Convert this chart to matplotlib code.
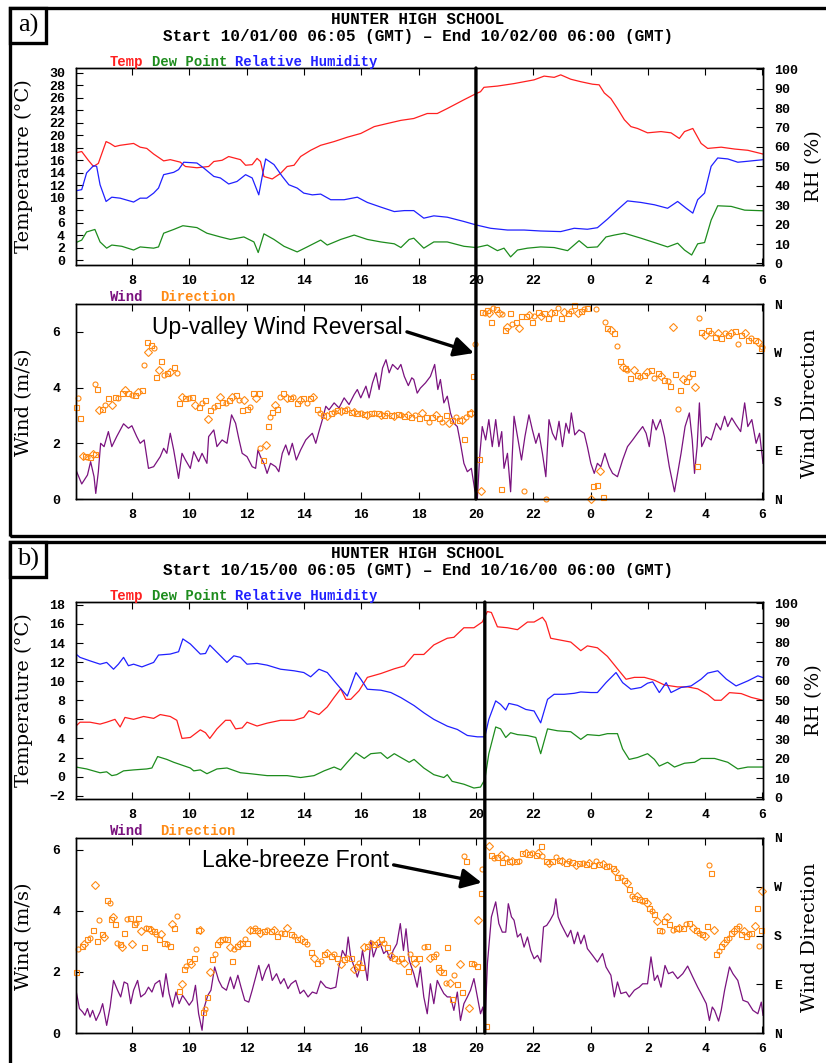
import matplotlib
matplotlib.use('Agg')
import matplotlib.pyplot as plt
from matplotlib.patches import Rectangle, ConnectionPatch

W, H = 826, 1063

# ---- data: (hour since 00 GMT of start day, value); hours > 24 are next day

# panel a  10/01/00
a_temp = [(6.04, 17.2), (6.24, 17.4), (6.47, 16.0), (6.65, 15.0), (6.82, 15.5), (7.09, 19.0), (7.23, 18.7),
          (7.40, 18.2), (7.58, 18.4), (8.05, 18.7), (8.28, 18.1), (8.51, 17.9), (8.75, 17.0), (9.10, 15.9),
          (9.33, 16.1), (9.68, 15.7), (9.86, 15.0), (10.26, 14.8), (10.67, 15.0), (10.85, 15.8), (11.14, 16.0),
          (11.37, 16.6), (11.78, 16.1), (11.96, 15.2), (12.19, 15.3), (12.36, 16.3), (12.48, 15.8), (12.60, 13.4),
          (12.89, 13.0), (13.18, 13.9), (13.41, 15.0), (13.65, 15.2), (13.88, 16.6), (14.23, 17.6), (14.58, 18.4),
          (15.05, 19.0), (15.51, 19.7), (15.98, 20.3), (16.45, 21.4), (16.91, 21.9), (17.38, 22.4), (17.83, 22.7),
          (18.30, 23.5), (18.65, 23.5), (19.00, 24.3), (19.58, 25.7), (20.01, 26.7), (20.16, 27.0), (20.28, 27.7),
          (20.75, 27.9), (21.33, 28.3), (21.68, 28.6), (22.03, 28.9), (22.38, 29.5), (22.73, 29.3), (22.96, 29.7),
          (23.31, 29.0), (23.66, 28.6), (24.07, 28.2), (24.30, 28.1), (24.48, 26.8), (24.71, 25.9), (24.94, 24.3),
          (25.18, 22.5), (25.41, 21.4), (25.64, 21.1), (25.99, 20.4), (26.46, 20.6), (26.81, 20.4), (27.10, 19.5),
          (27.28, 20.6), (27.57, 21.1), (27.86, 18.7), (28.09, 17.9), (28.56, 18.1), (29.03, 17.8), (29.49, 17.6),
          (30.02, 17.0)]
a_dew = [(6.04, 2.8), (6.24, 3.2), (6.41, 4.5), (6.70, 4.9), (6.88, 2.9), (7.11, 1.9), (7.29, 2.4), (7.64, 2.2),
         (8.05, 1.6), (8.28, 2.1), (8.51, 2.0), (8.75, 1.9), (8.92, 2.1), (9.10, 4.3), (9.45, 4.9), (9.77, 5.5),
         (10.26, 5.2), (10.61, 4.3), (11.08, 3.7), (11.43, 3.3), (11.90, 3.7), (12.25, 2.9), (12.40, 1.2),
         (12.60, 4.2), (12.95, 3.3), (13.30, 2.2), (13.76, 1.3), (14.11, 2.1), (14.58, 3.2), (14.81, 2.4),
         (15.28, 3.3), (15.75, 4.0), (16.21, 3.3), (16.68, 2.9), (17.15, 2.6), (17.38, 2.0), (17.67, 3.3),
         (17.83, 3.5), (18.18, 1.9), (18.53, 2.9), (19.00, 2.9), (19.58, 2.2), (20.01, 2.0), (20.40, 2.4),
         (20.75, 1.5), (20.98, 1.9), (21.21, 0.5), (21.45, 1.6), (21.80, 1.9), (22.26, 2.1), (22.73, 2.0),
         (23.20, 1.5), (23.60, 3.1), (23.89, 2.0), (24.24, 2.1), (24.54, 3.7), (24.83, 4.0), (25.18, 4.3),
         (25.76, 3.5), (26.23, 2.8), (26.69, 2.1), (27.04, 2.7), (27.28, 1.6), (27.53, 0.8), (27.74, 2.6),
         (27.98, 2.8), (28.21, 6.4), (28.44, 8.7), (28.91, 8.6), (29.38, 8.0), (30.02, 7.9)]
a_rh = [(6.04, 37.4), (6.24, 38.0), (6.41, 46.6), (6.65, 50.3), (6.76, 50.0), (6.88, 40.5), (7.09, 31.9),
        (7.29, 34.1), (7.58, 33.6), (8.05, 31.6), (8.28, 33.6), (8.51, 33.6), (8.75, 36.2), (8.92, 38.8),
        (9.10, 45.7), (9.45, 46.9), (9.62, 48.3), (9.80, 52.1), (10.26, 51.7), (10.50, 49.1), (10.85, 44.8),
        (11.08, 44.0), (11.37, 40.9), (11.66, 42.2), (11.96, 45.7), (12.19, 44.0), (12.42, 35.3), (12.54, 44.8),
        (12.66, 53.8), (12.95, 50.9), (13.24, 44.8), (13.47, 40.5), (13.76, 38.8), (13.99, 36.2), (14.29, 35.3),
        (14.58, 35.7), (14.93, 32.8), (15.40, 32.8), (15.86, 34.1), (16.21, 31.4), (16.68, 29.0), (17.15, 26.7),
        (17.50, 27.2), (17.83, 27.2), (18.18, 23.3), (18.53, 24.5), (19.00, 23.8), (19.58, 21.6), (20.01, 19.8),
        (20.51, 18.1), (21.10, 17.2), (21.68, 17.2), (22.26, 16.7), (22.96, 16.4), (23.43, 18.1), (23.89, 17.6),
        (24.24, 18.4), (24.59, 22.8), (24.94, 27.6), (25.29, 32.2), (25.76, 31.4), (26.23, 30.2), (26.69, 28.4),
        (27.04, 31.9), (27.34, 28.4), (27.57, 25.9), (27.74, 32.8), (27.98, 36.2), (28.21, 50.0), (28.44, 54.3),
        (28.79, 53.8), (29.14, 52.1), (29.49, 52.6), (30.02, 53.4)]
a_wind = [(6.04, 1.04), (6.24, 0.54), (6.44, 0.86), (6.55, 1.34), (6.67, 0.8), (6.73, 0.2), (6.82, 0.98),
          (6.90, 2.0), (7.02, 1.88), (7.17, 2.42), (7.29, 1.88), (7.46, 2.24), (7.70, 2.7), (7.87, 2.54),
          (7.99, 2.63), (8.16, 2.24), (8.28, 2.0), (8.42, 2.12), (8.57, 1.1), (8.75, 1.16), (8.98, 1.52),
          (9.10, 1.82), (9.21, 1.64), (9.33, 2.36), (9.45, 1.76), (9.62, 0.74), (9.74, 1.64), (9.86, 1.4),
          (10.03, 1.1), (10.15, 1.7), (10.32, 1.34), (10.44, 1.64), (10.61, 1.28), (10.67, 2.24), (10.85, 2.48),
          (10.96, 1.88), (11.14, 2.12), (11.31, 2.0), (11.47, 3.02), (11.61, 2.72), (11.72, 2.18), (11.84, 1.64),
          (12.01, 1.52), (12.19, 1.16), (12.31, 1.1), (12.39, 1.76), (12.48, 1.52), (12.60, 1.28), (12.71, 0.92),
          (12.83, 1.28), (13.01, 1.16), (13.12, 0.98), (13.24, 1.64), (13.36, 1.94), (13.47, 1.58), (13.59, 2.0),
          (13.73, 1.4), (13.88, 1.76), (14.06, 2.12), (14.17, 2.24), (14.29, 2.36), (14.41, 2.0), (14.52, 2.42),
          (14.64, 2.85), (14.76, 3.33), (14.87, 3.2), (15.05, 3.45), (15.22, 3.27), (15.40, 3.63), (15.57, 3.39),
          (15.75, 3.75), (15.86, 3.93), (15.98, 3.63), (16.16, 4.05), (16.27, 3.63), (16.39, 4.17), (16.51, 4.53),
          (16.62, 3.93), (16.74, 4.7), (16.86, 5.0), (16.97, 4.53), (17.09, 4.83), (17.27, 4.65), (17.38, 4.83),
          (17.50, 4.4), (17.64, 4.07), (17.76, 4.35), (17.83, 4.29), (17.95, 3.8), (18.06, 3.98), (18.24, 4.17),
          (18.41, 4.4), (18.56, 4.83), (18.67, 3.93), (18.76, 4.29), (18.88, 3.45), (19.00, 3.69), (19.11, 3.09),
          (19.23, 2.72), (19.35, 2.6), (19.46, 2.0), (19.58, 1.28), (19.70, 0.98), (19.84, 1.1), (19.96, 0.32),
          (20.05, 0.02), (20.13, 1.52), (20.22, 2.6), (20.34, 2.12), (20.45, 2.85), (20.57, 1.88), (20.69, 2.85),
          (20.80, 1.88), (20.90, 2.42), (20.98, 1.1), (21.10, 1.64), (21.21, 0.26), (21.33, 2.97), (21.45, 2.24),
          (21.59, 1.4), (21.71, 2.24), (21.85, 3.02), (21.97, 2.48), (22.09, 2.0), (22.20, 2.36), (22.32, 1.64),
          (22.44, 0.8), (22.55, 2.85), (22.67, 2.36), (22.79, 2.12), (22.90, 2.79), (23.02, 1.88), (23.14, 2.72),
          (23.25, 2.36), (23.33, 3.09), (23.45, 2.3), (23.60, 2.48), (23.78, 2.36), (23.89, 1.88), (24.01, 1.28),
          (24.13, 0.92), (24.24, 1.28), (24.36, 1.16), (24.50, 1.64), (24.65, 1.16), (24.77, 0.92), (24.94, 0.8),
          (25.12, 1.4), (25.29, 1.88), (25.47, 2.12), (25.64, 2.36), (25.82, 2.6), (25.94, 2.36), (26.05, 1.88),
          (26.17, 2.85), (26.29, 2.48), (26.44, 2.85), (26.58, 2.24), (26.75, 1.16), (26.93, 0.26), (27.04, 0.92),
          (27.16, 1.64), (27.30, 2.6), (27.45, 3.09), (27.55, 2.12), (27.63, 0.92), (27.72, 1.88), (27.80, 3.45),
          (27.88, 1.88), (28.04, 2.24), (28.21, 2.12), (28.39, 2.72), (28.54, 2.48), (28.68, 2.97), (28.79, 2.6),
          (28.93, 2.91), (29.08, 2.66), (29.24, 2.42), (29.38, 3.45), (29.49, 2.6), (29.63, 2.85), (29.78, 2.0),
          (29.90, 2.36), (30.02, 1.28)]
a_dir = [(6.04, 170), (6.12, 186), (6.18, 149), (6.27, 80), (6.35, 79), (6.44, 77), (6.53, 78), (6.62, 83),
         (6.70, 84), (6.70, 213), (6.79, 204), (6.86, 164), (6.94, 167), (7.05, 174), (7.17, 186), (7.29, 174),
         (7.40, 189), (7.52, 186), (7.64, 195), (7.75, 201), (7.87, 195), (7.99, 192), (8.10, 192), (8.22, 198),
         (8.34, 201), (8.42, 247), (8.51, 289), (8.57, 272), (8.65, 284), (8.75, 278), (8.84, 226), (8.92, 238),
         (9.00, 255), (9.10, 229), (9.21, 232), (9.33, 235), (9.45, 244), (9.56, 232), (9.64, 178), (9.74, 189),
         (9.86, 186), (9.97, 186), (10.09, 189), (10.21, 174), (10.32, 170), (10.44, 177), (10.56, 183),
         (10.64, 147), (10.73, 164), (10.85, 170), (10.96, 174), (11.06, 189), (11.14, 180), (11.26, 177),
         (11.37, 183), (11.49, 189), (11.61, 192), (11.72, 183), (11.82, 164), (11.90, 183), (12.01, 167),
         (12.11, 170), (12.22, 195), (12.31, 186), (12.42, 195), (12.48, 94), (12.57, 72), (12.66, 100),
         (12.74, 134), (12.81, 152), (12.89, 161), (12.98, 174), (13.06, 167), (13.16, 189), (13.27, 195),
         (13.39, 186), (13.51, 186), (13.62, 189), (13.74, 177), (13.86, 183), (13.97, 186), (14.09, 177),
         (14.21, 186), (14.32, 189), (14.44, 167), (14.56, 158), (14.67, 155), (14.79, 153), (14.93, 158),
         (15.05, 161), (15.16, 164), (15.28, 163), (15.40, 164), (15.51, 167), (15.63, 161), (15.75, 161),
         (15.86, 159), (15.98, 158), (16.10, 157), (16.21, 155), (16.33, 158), (16.45, 159), (16.57, 158),
         (16.68, 155), (16.80, 155), (16.91, 158), (17.03, 155), (17.15, 153), (17.27, 157), (17.38, 155),
         (17.50, 153), (17.62, 155), (17.73, 152), (17.89, 155), (18.00, 149), (18.12, 158), (18.24, 152),
         (18.35, 143), (18.47, 152), (18.59, 155), (18.70, 149), (18.82, 143), (18.94, 155), (19.05, 140),
         (19.17, 146), (19.29, 152), (19.40, 146), (19.52, 146), (19.58, 110), (19.67, 152), (19.75, 158),
         (19.84, 159), (19.91, 228), (19.96, 287), (20.10, 73), (20.16, 14), (20.22, 346), (20.30, 343),
         (20.37, 349), (20.45, 343), (20.51, 327), (20.61, 352), (20.69, 350), (20.80, 343), (20.86, 18),
         (20.92, 341), (21.00, 312), (21.10, 318), (21.19, 343), (21.27, 324), (21.39, 327), (21.50, 315),
         (21.59, 338), (21.68, 14), (21.74, 337), (21.85, 340), (21.94, 327), (22.03, 337), (22.15, 346),
         (22.26, 337), (22.38, 343), (22.44, 0), (22.50, 334), (22.61, 343), (22.73, 346), (22.87, 352),
         (22.96, 334), (23.08, 346), (23.20, 344), (23.31, 348), (23.43, 358), (23.55, 343), (23.66, 348),
         (23.78, 350), (23.89, 352), (24.01, 0), (24.07, 24), (24.19, 350), (24.24, 26), (24.34, 52), (24.44, 3),
         (24.51, 326), (24.59, 315), (24.71, 312), (24.83, 307), (24.92, 282), (25.03, 255), (25.12, 244),
         (25.20, 241), (25.29, 238), (25.39, 224), (25.50, 239), (25.62, 229), (25.74, 226), (25.85, 229),
         (25.97, 235), (26.11, 239), (26.23, 223), (26.34, 233), (26.46, 227), (26.58, 220), (26.69, 217),
         (26.79, 209), (26.87, 318), (26.96, 231), (27.04, 167), (27.13, 201), (27.22, 221), (27.34, 217),
         (27.45, 226), (27.55, 233), (27.63, 206), (27.72, 61), (27.78, 334), (27.86, 309), (27.98, 303),
         (28.09, 312), (28.21, 306), (28.33, 300), (28.44, 307), (28.56, 297), (28.68, 306), (28.79, 303),
         (28.91, 307), (29.03, 311), (29.14, 287), (29.26, 303), (29.38, 306), (29.49, 294), (29.61, 297),
         (29.73, 294), (29.84, 290), (29.96, 278), (30.00, 281)]

# panel b  10/15/00
b_temp = [(6.04, 5.3), (6.18, 5.7), (6.53, 5.7), (6.88, 5.5), (7.11, 5.7), (7.40, 6.0), (7.58, 5.2), (7.75, 6.2),
          (8.05, 6.0), (8.40, 6.3), (8.75, 6.1), (8.98, 6.5), (9.33, 6.3), (9.56, 5.9), (9.74, 4.0), (10.03, 4.1),
          (10.38, 4.9), (10.56, 4.6), (10.71, 4.0), (10.96, 5.0), (11.26, 5.9), (11.43, 5.9), (11.61, 5.0),
          (11.84, 5.1), (12.01, 5.7), (12.36, 5.3), (12.71, 5.6), (13.18, 5.9), (13.65, 5.9), (13.99, 6.2),
          (14.17, 6.9), (14.52, 6.5), (14.81, 7.3), (15.05, 8.3), (15.28, 9.2), (15.46, 8.1), (15.63, 8.1),
          (15.92, 9.0), (16.21, 10.4), (16.68, 10.8), (17.15, 11.3), (17.50, 11.6), (17.84, 12.8), (18.18, 12.8),
          (18.53, 13.8), (19.00, 14.5), (19.23, 14.6), (19.58, 15.6), (19.93, 15.6), (20.22, 16.2), (20.40, 17.3),
          (20.54, 17.2), (20.75, 15.7), (21.10, 15.6), (21.45, 15.4), (21.80, 16.2), (22.03, 16.2), (22.32, 16.7),
          (22.44, 16.2), (22.61, 14.5), (22.96, 14.3), (23.31, 14.1), (23.66, 13.2), (23.89, 13.7), (24.24, 13.5),
          (24.59, 12.6), (24.94, 11.3), (25.24, 10.2), (25.53, 10.4), (25.88, 10.4), (26.23, 10.1), (26.58, 9.6),
          (27.04, 9.4), (27.39, 9.4), (27.74, 9.2), (28.09, 8.6), (28.33, 8.0), (28.56, 8.0), (28.85, 8.8),
          (29.26, 8.7), (29.61, 8.3), (30.02, 8.0)]
b_dew = [(6.04, 1.0), (6.41, 0.8), (6.88, 0.4), (7.11, 0.5), (7.29, 0.1), (7.46, 0.2), (7.70, 0.6), (8.05, 0.7),
         (8.51, 0.8), (8.69, 0.9), (8.89, 2.1), (9.21, 1.8), (9.45, 1.5), (9.74, 1.2), (10.03, 0.9), (10.15, 0.6),
         (10.38, 0.7), (10.61, 0.3), (10.96, 0.8), (11.31, 0.9), (11.78, 0.4), (12.13, 0.3), (12.71, 0.1),
         (13.41, 0.1), (13.88, -0.1), (14.35, 0.1), (14.70, 0.6), (15.05, 1.0), (15.28, 0.7), (15.51, 1.5),
         (15.81, 2.5), (16.10, 1.9), (16.33, 2.4), (16.68, 2.5), (16.91, 1.9), (17.15, 2.4), (17.38, 2.0),
         (17.67, 1.5), (17.84, 1.8), (18.18, 0.9), (18.53, 0.2), (18.88, -0.1), (19.00, 0.2), (19.17, -0.5),
         (19.58, -0.8), (19.93, -1.2), (20.16, -1.1), (20.31, -0.3), (20.45, 2.4), (20.69, 5.2), (20.86, 5.0),
         (21.04, 4.1), (21.21, 4.6), (21.45, 4.4), (21.80, 4.3), (22.09, 4.1), (22.26, 2.4), (22.50, 5.0),
         (22.85, 4.8), (23.31, 4.7), (23.66, 3.9), (23.89, 4.4), (24.30, 4.3), (24.59, 4.5), (24.94, 4.5),
         (25.12, 2.9), (25.35, 1.8), (25.64, 2.0), (25.99, 2.4), (26.23, 1.8), (26.40, 1.1), (26.69, 1.5),
         (26.93, 1.0), (27.28, 1.4), (27.63, 1.5), (27.86, 1.9), (28.33, 1.9), (28.79, 1.5), (29.14, 0.8),
         (29.49, 1.0), (30.02, 1.0)]
b_rh = [(6.04, 73.8), (6.18, 72.1), (6.53, 70.3), (6.88, 68.6), (7.11, 69.5), (7.35, 66.0), (7.52, 68.6),
        (7.70, 72.1), (7.87, 67.8), (8.05, 68.6), (8.34, 67.2), (8.75, 69.5), (8.92, 73.3), (9.33, 73.8),
        (9.62, 75.0), (9.77, 81.6), (10.03, 79.0), (10.38, 73.8), (10.56, 74.1), (10.71, 78.4), (10.96, 74.7),
        (11.31, 69.5), (11.55, 72.9), (11.78, 72.1), (12.01, 68.6), (12.36, 69.0), (12.71, 68.1), (13.18, 66.0),
        (13.65, 65.2), (13.99, 64.3), (14.23, 62.1), (14.52, 66.0), (14.81, 64.3), (15.05, 60.0), (15.28, 56.0),
        (15.51, 52.2), (15.81, 64.3), (15.98, 60.9), (16.21, 55.7), (16.68, 55.2), (17.03, 54.0), (17.38, 51.4),
        (17.84, 47.3), (18.18, 43.6), (18.53, 40.2), (18.88, 37.6), (19.00, 36.7), (19.35, 35.0), (19.70, 31.9),
        (20.05, 31.2), (20.31, 31.2), (20.45, 40.2), (20.69, 49.7), (20.86, 47.9), (21.04, 45.0), (21.15, 48.4),
        (21.45, 47.4), (21.74, 45.3), (22.03, 44.5), (22.26, 38.4), (22.50, 50.5), (22.73, 53.1), (23.08, 53.1),
        (23.43, 53.6), (23.66, 54.3), (24.01, 54.0), (24.24, 54.0), (24.54, 59.1), (24.89, 64.3), (25.12, 59.1),
        (25.41, 55.7), (25.76, 56.6), (25.99, 58.8), (26.17, 59.5), (26.40, 54.0), (26.64, 59.1), (26.81, 54.0),
        (27.16, 56.6), (27.51, 57.4), (27.86, 60.9), (28.09, 64.0), (28.44, 65.2), (28.74, 60.9), (29.08, 57.4),
        (29.49, 60.0), (29.84, 62.6), (30.02, 61.7)]
b_wind = [(6.04, 1.4), (6.16, 0.8), (6.27, 0.69), (6.35, 0.58), (6.44, 0.8), (6.53, 0.52), (6.62, 0.74),
          (6.74, 0.41), (6.88, 0.69), (6.97, 0.96), (7.11, 0.25), (7.23, 0.85), (7.35, 1.72), (7.49, 1.4),
          (7.60, 1.18), (7.72, 1.67), (7.84, 1.61), (7.95, 0.96), (8.05, 1.4), (8.19, 1.72), (8.30, 1.18),
          (8.45, 1.29), (8.57, 1.5), (8.69, 1.34), (8.80, 1.61), (8.96, 1.72), (9.07, 1.18), (9.18, 1.94),
          (9.29, 1.29), (9.41, 0.85), (9.53, 1.34), (9.64, 0.96), (9.76, 1.23), (9.88, 1.07), (9.99, 0.91),
          (10.11, 1.07), (10.21, 1.56), (10.32, 0.63), (10.44, 0.09), (10.52, 0.85), (10.64, 1.23), (10.75, 1.4),
          (10.88, 2.16), (11.02, 1.72), (11.14, 1.5), (11.29, 1.4), (11.43, 1.83), (11.55, 1.45), (11.69, 1.89),
          (11.80, 1.5), (11.93, 1.07), (12.07, 1.01), (12.19, 1.4), (12.31, 1.83), (12.42, 2.21), (12.54, 1.72),
          (12.66, 2.05), (12.77, 2.25), (12.89, 1.72), (13.04, 1.94), (13.18, 1.61), (13.30, 1.78), (13.44, 1.45),
          (13.55, 1.61), (13.71, 1.72), (13.86, 1.29), (13.99, 1.4), (14.14, 1.18), (14.29, 1.34), (14.44, 1.29),
          (14.58, 1.7), (14.76, 1.5), (14.93, 1.45), (15.11, 1.5), (15.22, 2.16), (15.34, 2.7), (15.46, 2.49),
          (15.54, 3.14), (15.63, 2.49), (15.75, 2.16), (15.86, 1.83), (15.96, 2.16), (16.04, 2.7), (16.12, 2.27),
          (16.21, 1.72), (16.33, 3.03), (16.42, 2.49), (16.54, 2.81), (16.66, 2.92), (16.78, 2.6), (16.89, 2.7),
          (17.01, 2.38), (17.11, 2.7), (17.24, 2.92), (17.36, 3.58), (17.47, 2.7), (17.56, 3.41), (17.67, 2.38),
          (17.83, 1.94), (17.95, 1.5), (18.06, 2.16), (18.18, 1.18), (18.30, 0.63), (18.41, 1.61), (18.53, 0.96),
          (18.65, 1.72), (18.76, 1.5), (18.88, 1.29), (19.00, 1.18), (19.11, 1.18), (19.23, 0.74), (19.35, 1.34),
          (19.46, 0.41), (19.58, 0.96), (19.70, 1.18), (19.81, 1.4), (19.93, 1.78), (20.05, 1.18), (20.16, 0.63),
          (20.24, 0.85), (20.31, 0.2), (20.40, 2.27), (20.54, 3.8), (20.69, 4.29), (20.80, 3.58), (20.92, 3.3),
          (21.04, 3.3), (21.13, 4.23), (21.24, 3.8), (21.33, 3.69), (21.45, 3.14), (21.56, 3.25), (21.68, 2.81),
          (21.80, 3.14), (21.91, 2.7), (22.03, 2.43), (22.15, 2.54), (22.26, 2.32), (22.36, 3.47), (22.47, 3.52),
          (22.59, 3.69), (22.71, 3.9), (22.79, 4.39), (22.87, 3.8), (22.96, 3.58), (23.08, 3.36), (23.20, 3.14),
          (23.31, 3.36), (23.43, 2.92), (23.55, 3.3), (23.66, 2.92), (23.78, 3.2), (23.89, 2.76), (24.07, 2.54),
          (24.24, 2.32), (24.42, 2.6), (24.54, 2.16), (24.71, 1.89), (24.83, 1.18), (24.94, 1.67), (25.06, 1.29),
          (25.24, 1.34), (25.35, 1.18), (25.53, 1.4), (25.70, 1.5), (25.82, 1.61), (25.99, 1.61), (26.11, 2.49),
          (26.23, 1.72), (26.34, 1.89), (26.46, 1.5), (26.60, 2.21), (26.72, 1.94), (26.87, 2.0), (27.04, 1.78),
          (27.22, 1.94), (27.39, 2.19), (27.57, 1.83), (27.74, 1.5), (27.86, 1.29), (28.04, 0.96), (28.15, 0.41),
          (28.25, 0.85), (28.33, 0.74), (28.47, 0.39), (28.56, 0.74), (28.68, 1.4), (28.85, 2.16), (28.97, 1.94),
          (29.14, 1.72), (29.32, 1.07), (29.49, 1.01), (29.67, 0.74), (29.84, 0.63), (29.96, 1.01), (30.02, 0.58)]
b_dir = [(6.04, 112), (6.12, 155), (6.24, 161), (6.32, 164), (6.41, 173), (6.53, 176), (6.62, 191), (6.70, 273),
         (6.79, 170), (6.86, 208), (6.94, 182), (7.02, 177), (7.11, 245), (7.21, 240), (7.25, 210), (7.32, 214),
         (7.40, 201), (7.46, 167), (7.56, 164), (7.64, 158), (7.72, 185), (7.81, 210), (7.91, 213), (7.99, 165),
         (8.05, 201), (8.14, 204), (8.22, 213), (8.30, 188), (8.40, 159), (8.48, 194), (8.57, 194), (8.65, 191),
         (8.75, 188), (8.84, 182), (8.92, 173), (9.00, 182), (9.10, 167), (9.21, 164), (9.31, 161), (9.39, 201),
         (9.47, 194), (9.56, 216), (9.62, 78), (9.74, 90), (9.80, 118), (9.89, 124), (9.97, 133), (10.05, 127),
         (10.15, 139), (10.23, 156), (10.30, 191), (10.38, 190), (10.46, 38), (10.53, 44), (10.61, 66),
         (10.71, 112), (10.80, 136), (10.88, 145), (10.96, 164), (11.06, 170), (11.14, 173), (11.23, 173),
         (11.31, 174), (11.41, 158), (11.49, 133), (11.57, 155), (11.66, 161), (11.76, 164), (11.84, 167),
         (11.93, 173), (12.01, 167), (12.11, 190), (12.19, 191), (12.28, 194), (12.36, 190), (12.48, 185),
         (12.60, 188), (12.71, 190), (12.83, 188), (12.95, 190), (13.06, 179), (13.18, 185), (13.30, 185),
         (13.41, 194), (13.53, 182), (13.65, 179), (13.76, 173), (13.88, 173), (13.99, 170), (14.11, 164),
         (14.23, 150), (14.35, 139), (14.46, 130), (14.58, 133), (14.70, 145), (14.81, 148), (14.93, 142),
         (15.05, 145), (15.16, 139), (15.28, 127), (15.40, 136), (15.51, 139), (15.63, 139), (15.75, 118),
         (15.84, 124), (15.92, 130), (16.00, 121), (16.10, 158), (16.21, 161), (16.33, 167), (16.45, 164),
         (16.57, 167), (16.68, 173), (16.80, 167), (16.91, 158), (17.03, 142), (17.15, 139), (17.27, 133),
         (17.38, 139), (17.50, 130), (17.62, 115), (17.71, 145), (17.79, 139), (17.89, 130), (18.00, 139),
         (18.18, 158), (18.30, 161), (18.41, 139), (18.51, 142), (18.59, 145), (18.67, 121), (18.76, 115),
         (18.86, 112), (18.94, 93), (19.00, 159), (19.09, 93), (19.17, 63), (19.25, 107), (19.35, 91),
         (19.44, 127), (19.52, 75), (19.60, 326), (19.67, 317), (19.75, 47), (19.84, 130), (19.93, 127),
         (20.02, 124), (20.08, 208), (20.16, 259), (20.22, 302), (20.34, 13), (20.45, 345), (20.54, 329),
         (20.63, 323), (20.75, 325), (20.86, 329), (20.92, 316), (21.04, 323), (21.15, 317), (21.27, 318),
         (21.39, 317), (21.50, 317), (21.62, 333), (21.74, 333), (21.85, 331), (21.97, 333), (22.09, 329),
         (22.17, 333), (22.26, 345), (22.32, 326), (22.44, 317), (22.55, 314), (22.67, 318), (22.79, 325),
         (22.90, 320), (23.02, 317), (23.14, 314), (23.25, 318), (23.37, 316), (23.49, 311), (23.60, 314),
         (23.72, 314), (23.84, 312), (23.95, 314), (24.07, 311), (24.19, 317), (24.30, 312), (24.42, 312),
         (24.54, 308), (24.65, 308), (24.77, 304), (24.85, 299), (24.94, 288), (25.06, 288), (25.18, 283),
         (25.27, 277), (25.35, 265), (25.43, 253), (25.53, 250), (25.62, 253), (25.70, 247), (25.80, 244),
         (25.88, 245), (25.96, 240), (26.05, 231), (26.13, 225), (26.23, 219), (26.32, 207), (26.40, 191),
         (26.48, 188), (26.58, 207), (26.67, 214), (26.75, 201), (26.87, 191), (26.99, 194), (27.10, 193),
         (27.22, 194), (27.34, 201), (27.45, 204), (27.57, 194), (27.69, 191), (27.80, 185), (27.88, 182),
         (27.98, 179), (28.07, 198), (28.13, 311), (28.21, 296), (28.30, 191), (28.39, 145), (28.47, 152),
         (28.56, 161), (28.65, 167), (28.74, 173), (28.83, 176), (28.91, 185), (29.00, 188), (29.08, 194),
         (29.17, 198), (29.26, 182), (29.35, 188), (29.43, 179), (29.53, 182), (29.61, 185), (29.73, 198),
         (29.81, 231), (29.88, 161), (29.96, 191), (30.00, 263)]

event_a = 20.0    # up-valley wind reversal
event_b = 20.31   # lake-breeze front

hour_ticks = list(range(8, 31, 2))
hour_labels = [str(h % 24) for h in hour_ticks]
dir_ticks = [0, 90, 180, 270, 360]
dir_labels = ['N', 'E', 'S', 'W', 'N']

RED = '#ff1f1f'
GREEN = '#1d8c1d'
BLUE = '#2020ff'
PURPLE = '#7a127f'
ORANGE = '#ff8a14'
MONO = 'Liberation Mono'
SERIF = 'DejaVu Serif'

fig = plt.figure(figsize=(W / 100, H / 100), dpi=100)


def px_box(top, bottom, left=76, right=763):
    return [left / W, 1 - bottom / H, (right - left) / W, (bottom - top) / H]


def ftext(x, y, s, **kw):
    fig.text(x / W, 1 - y / H, s, **kw)


def style_axis(ax, side):
    ax.tick_params(axis='both', direction='in', length=5, width=0.8, labelsize=9.5)
    ax.tick_params(axis='x', top=True, pad=7)
    ax.tick_params(axis='y', pad=8)
    for lab in ax.get_xticklabels() + ax.get_yticklabels():
        lab.set_family(MONO)
        lab.set_weight('bold')
    for sp in ax.spines.values():
        sp.set_linewidth(1.0)


def xy(pairs):
    return [p[0] for p in pairs], [p[1] for p in pairs]


def draw_panel(dy, tag, start, end, temp, dew, rh, wind, wdir, event,
               tlim, tticks, wlim, note, note_at, tip_at):
    # outer frame and tag
    fig.add_artist(Rectangle((10 / W, 1 - (536 + dy + (530 if tag == 'b)' else 0)) / H),
                             (900 - 10) / W, (528 + (530 if tag == 'b)' else 0)) / H,
                             transform=fig.transFigure, fill=False, lw=2.4, ec='black'))
    fig.add_artist(Rectangle((10 / W, 1 - (43 + dy) / H), 36 / W, 35 / H,
                             transform=fig.transFigure, fc='white', lw=2.4, ec='black'))
    ftext(28, 25 + dy, tag, ha='center', va='center', family='Liberation Serif', size=19)

    ftext(418, 20 + dy, 'HUNTER HIGH SCHOOL', ha='center', va='center', family=MONO,
          weight='bold', size=11.5)
    ftext(418, 36 + dy, 'Start %s (GMT) \u2013 End %s (GMT)' % (start, end), ha='center',
          va='center', family=MONO, weight='bold', size=11.5)

    cw = 10 * 100 / 72 * 0.6
    for k, (word, col) in enumerate([('Temp', RED), ('Dew Point', GREEN), ('Relative Humidity', BLUE)]):
        ftext(110 + [0, 5, 15][k] * cw, 62 + dy, word, color=col, family=MONO, weight='bold',
              size=10, va='center')
    ftext(110, 297 + dy, 'Wind', color=PURPLE, family=MONO, weight='bold', size=10, va='center')
    ftext(110 + 6 * cw, 297 + dy, 'Direction', color=ORANGE, family=MONO, weight='bold', size=10,
          va='center')

    # temperature / RH
    ax_t = fig.add_axes(px_box(68 + dy, 265 + dy))
    ax_r = ax_t.twinx()
    ax_t.plot(*xy(temp), color=RED, lw=0.9)
    ax_t.plot(*xy(dew), color=GREEN, lw=0.9)
    ax_r.plot(*xy(rh), color=BLUE, lw=0.9)
    ax_t.set_xlim(6.04, 30.02)
    ax_t.set_ylim(*tlim)
    ax_r.set_ylim(-0.8, 100.6)
    ax_t.set_yticks(tticks)
    ax_r.set_yticks(range(0, 101, 10))
    ax_t.set_xticks(hour_ticks, hour_labels)
    style_axis(ax_t, 'left')
    style_axis(ax_r, 'right')
    ftext(24, 166 + dy, 'Temperature (\u00b0C)', rotation=90, ha='center', va='center',
          family=SERIF, size=14)
    ftext(814, 166 + dy, 'RH (%)', rotation=90, ha='center', va='center', family=SERIF, size=14)

    # wind speed / direction
    ax_w = fig.add_axes(px_box(304 + dy, 499 + dy))
    ax_d = ax_w.twinx()
    ax_w.plot(*xy(wind), color=PURPLE, lw=0.9)
    dh, dv = xy(wdir)
    marks = ['s', 'o', 's', 'D']
    for k, m in enumerate(marks):
        ax_d.plot(dh[k::len(marks)], dv[k::len(marks)], ls='none', marker=m, ms=3.6 if m != 'D' else 3.8,
                  mfc='none', mec=ORANGE, mew=0.8, clip_on=False)
    ax_w.set_xlim(6.04, 30.02)
    ax_w.set_ylim(*wlim)
    ax_w.set_yticks([0, 2, 4, 6])
    ax_d.set_ylim(0, 360)
    ax_d.set_yticks(dir_ticks, dir_labels)
    ax_w.set_xticks(hour_ticks, hour_labels)
    style_axis(ax_w, 'left')
    style_axis(ax_d, 'right')
    ax_w.tick_params(axis='y', pad=11)
    ftext(24, 402 + dy, 'Wind (m/s)', rotation=90, ha='center', va='center', family=SERIF, size=14)
    ftext(810, 403 + dy, 'Wind Direction', rotation=90, ha='center', va='center', family=SERIF,
          size=14)

    ax_w.annotate(note, xy=tip_at, xytext=note_at, ha='left', va='center',
                  family='Liberation Sans', size=16.5, zorder=10,
                  arrowprops=dict(arrowstyle='-|>', color='black', lw=2.4, mutation_scale=30,
                                  shrinkA=1, shrinkB=0, relpos=(1.0, 0.35)))

    # event line through both plots
    con = ConnectionPatch(xyA=(event, tlim[1]), coordsA=ax_t.transData,
                          xyB=(event, wlim[0]), coordsB=ax_w.transData,
                          color='black', lw=2.4, zorder=20)
    fig.add_artist(con)


draw_panel(0, 'a)', '10/01/00 06:05', '10/02/00 06:00', a_temp, a_dew, a_rh, a_wind, a_dir, event_a,
           (-0.8, 30.8), range(0, 31, 2), (0, 7.0), 'Up-valley Wind Reversal', (8.7, 6.17), (19.93, 5.24))
draw_panel(534, 'b)', '10/15/00 06:05', '10/16/00 06:00', b_temp, b_dew, b_rh, b_wind, b_dir, event_b,
           (-2.35, 18.3), range(-2, 19, 2), (0, 6.38), 'Lake-breeze Front', (10.45, 5.64), (20.2, 4.92))

fig.savefig('out.png', dpi=100)
